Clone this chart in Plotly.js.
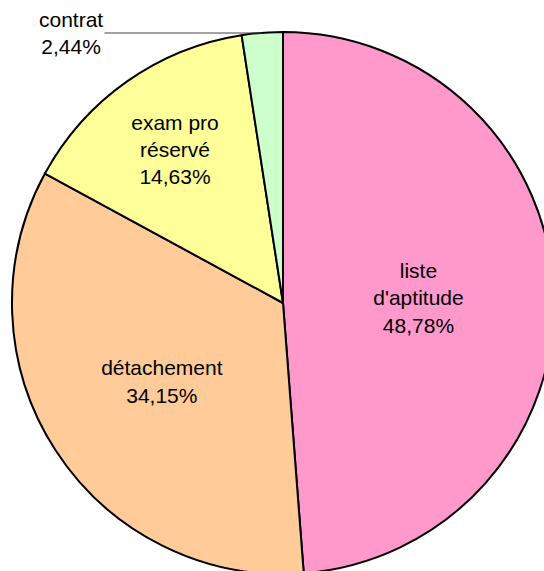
<!DOCTYPE html>
<html>
<head>
<meta charset="utf-8">
<script src="https://cdn.plot.ly/plotly-3.0.1.min.js"></script>
<style>
  html, body { margin: 0; padding: 0; overflow: hidden; background: #fff; }
</style>
</head>
<body>
<div id="chart"></div>
<script>
var categories = ['liste<br>d\'aptitude', 'détachement', 'exam pro<br>réservé', 'contrat'];
var counts = [20, 14, 6, 1];
var colors = ['#FF99CC', '#FFCC99', '#FFFF99', '#CCFFCC'];

// canvas bigger than the window so the pie runs off the right/bottom edge
var W = 566, H = 606;

var total = counts.reduce(function (a, b) { return a + b; }, 0);
var contratPct = (counts[3] / total * 100).toFixed(2).replace('.', ',') + '%';

var trace = {
  type: 'pie',
  labels: categories,
  values: counts,
  sort: false,
  direction: 'clockwise',
  rotation: 0,
  marker: { colors: colors, line: { color: '#000', width: 2 } },
  texttemplate: '%{label}<br>%{percent:.2%}',
  textposition: ['inside', 'inside', 'inside', 'none'],
  insidetextorientation: 'horizontal',
  insidetextfont: { family: 'Liberation Sans, Arial, sans-serif', size: 21, color: '#000' },
  hoverinfo: 'label+percent',
  domain: { x: [12 / W, 554 / W], y: [32 / H, 574 / H] }
};

var layout = {
  width: W,
  height: H,
  margin: { l: 0, r: 0, t: 0, b: 0 },
  showlegend: false,
  separators: ', ',
  paper_bgcolor: '#fff',
  font: { family: 'Liberation Sans, Arial, sans-serif', size: 21, color: '#000' },
  annotations: [{
    xref: 'paper', yref: 'paper',
    x: 262 / W, y: 1 - 33 / H,
    ax: -191, ay: 0,
    text: 'contrat<br>' + contratPct,
    showarrow: true,
    arrowhead: 0,
    arrowwidth: 1,
    arrowcolor: '#444',
    standoff: 0,
    font: { family: 'Liberation Sans, Arial, sans-serif', size: 21, color: '#000' }
  }]
};

Plotly.newPlot('chart', [trace], layout, { displayModeBar: false, staticPlot: true });
</script>
</body>
</html>
